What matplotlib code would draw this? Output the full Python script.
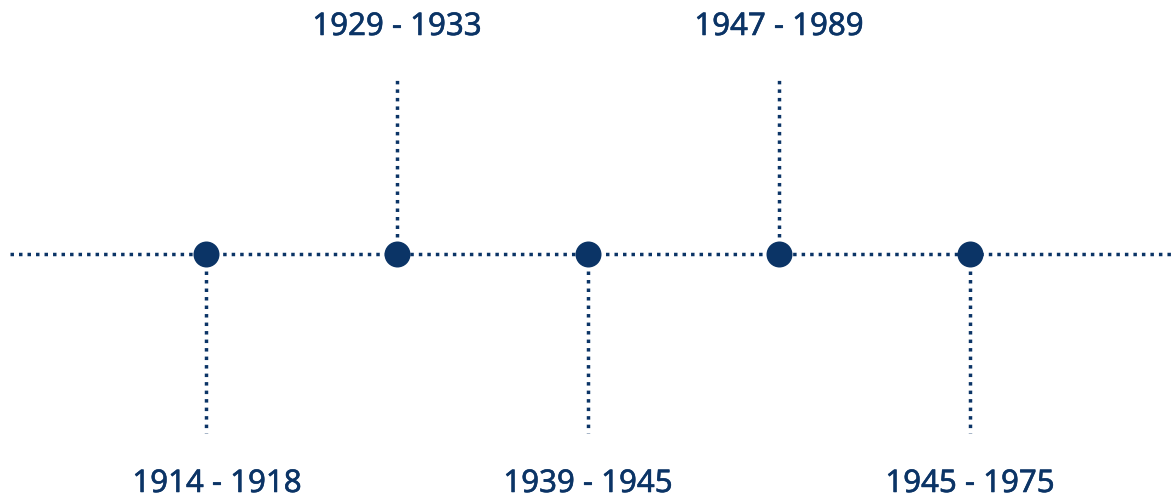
import matplotlib
matplotlib.use("Agg")
import matplotlib.pyplot as plt
import matplotlib.patheffects as pe

# Data
periods = ["1914 - 1918", "1929 - 1933", "1939 - 1945", "1947 - 1989", "1945 - 1975"]
directions = ["down", "up", "down", "up", "down"]

# Layout (pixel coordinates)
W, H = 1171, 495
color = "#0b3466"
x0, dx = 206, 191
y_axis = 254
y_up_end, y_down_end = 78, 433
y_top_label, y_bottom_label = 27, 484
label_dx = [11, 0, 0, 0, 0]

fig = plt.figure(figsize=(W / 100, H / 100), dpi=100)
ax = fig.add_axes([0, 0, 1, 1])
ax.set_xlim(0, W)
ax.set_ylim(H, 0)
ax.axis("off")

lw = 2.5
dash = (1, 1.45)
ax.plot([10, W], [y_axis, y_axis], color=color, lw=lw, dashes=dash,
        solid_capstyle="butt", dash_capstyle="butt", zorder=1)

for i, (label, d) in enumerate(zip(periods, directions)):
    x = x0 + i * dx
    yend = y_up_end if d == "up" else y_down_end
    ax.plot([x, x], [y_axis, yend], color=color, lw=lw, dashes=dash,
            dash_capstyle="butt", zorder=1)
    ax.scatter([x], [y_axis], s=(26 * 0.72) ** 2, color=color, zorder=3, linewidths=0)
    ty = y_top_label if d == "up" else y_bottom_label
    ax.text(x + label_dx[i], ty, label, ha="center", va="center",
            fontsize=22.5, color=color, family="Noto Sans",
            path_effects=[pe.withStroke(linewidth=0.4, foreground=color)])

fig.savefig("out.png", dpi=100)
